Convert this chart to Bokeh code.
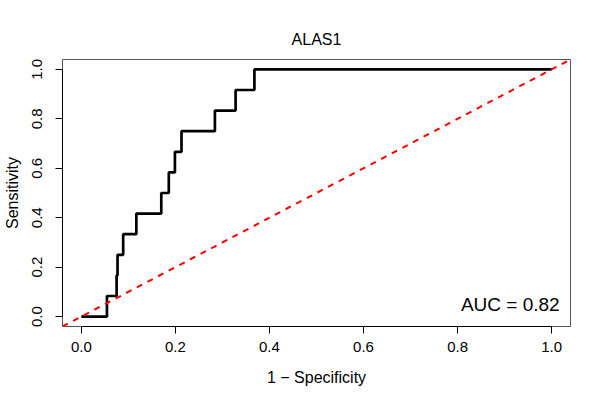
from bokeh.plotting import figure
from bokeh.models import Range1d, FixedTicker, PrintfTickFormatter, Slope, Label
from bokeh.embed import file_html
from bokeh.resources import INLINE

# ROC curve of ALAS1 (1 - specificity vs sensitivity), step vertices
fpr = [0.0, 0.0545, 0.075, 0.077, 0.089, 0.117, 0.170, 0.186, 0.199, 0.213, 0.284, 0.328, 0.368, 1.0]
sensitivity = [0.0, 0.0833, 0.1667, 0.25, 0.3333, 0.4167, 0.5, 0.5833, 0.6667, 0.75, 0.8333, 0.9167, 1.0, 1.0]
ticks = [0.0, 0.2, 0.4, 0.6, 0.8, 1.0]
auc_text = "AUC = 0.82"
title_text = "ALAS1"

FONT = "Liberation Sans"

p = figure(width=592, height=392, output_backend="svg", toolbar_location=None,
           x_range=Range1d(-0.04, 1.04), y_range=Range1d(-0.04, 1.04),
           min_border_left=59, min_border_right=22, min_border_top=59, min_border_bottom=66,
           title=title_text)

p.background_fill_color = "white"
p.border_fill_color = "white"
p.outline_line_color = "#555555"
p.outline_line_width = 1
p.xgrid.visible = False
p.ygrid.visible = False

p.title.align = "center"
p.title.text_font = FONT
p.title.text_font_size = "16px"
p.title.text_font_style = "normal"
p.title.text_color = "black"
p.title.standoff = 24

for ax in (p.xaxis[0], p.yaxis[0]):
    ax.ticker = FixedTicker(ticks=ticks)
    ax.formatter = PrintfTickFormatter(format="%.1f")
    ax.bounds = (0, 1)
    ax.axis_line_color = "black"
    ax.axis_line_width = 1
    ax.major_tick_line_color = "black"
    ax.major_tick_out = 7
    ax.major_tick_in = 0
    ax.minor_tick_line_color = None
    ax.major_label_text_font = FONT
    ax.major_label_text_font_size = "15px"
    ax.major_label_text_color = "black"
    ax.axis_label_text_font = FONT
    ax.axis_label_text_font_size = "16px"
    ax.axis_label_text_font_style = "normal"
    ax.axis_label_text_color = "black"

p.xaxis.axis_label = "1 \u2212 Specificity"
p.xaxis.major_label_standoff = 8
p.xaxis.axis_label_standoff = 14

p.yaxis.axis_label = "Sensitivity"
p.yaxis.major_label_orientation = "vertical"
p.yaxis.major_label_standoff = 13
p.yaxis.axis_label_standoff = 9

p.add_layout(Slope(gradient=1, y_intercept=0, line_color="red", line_width=2, line_dash="6 6"))

p.step(fpr, sensitivity, mode="after", line_color="black", line_width=2.7)

p.add_layout(Label(x=1.017, y=0.047, text=auc_text, text_align="right", text_baseline="middle",
                   text_font=FONT, text_font_size="19px", text_color="black"))

open("out.html", "w").write(file_html(p, INLINE))
